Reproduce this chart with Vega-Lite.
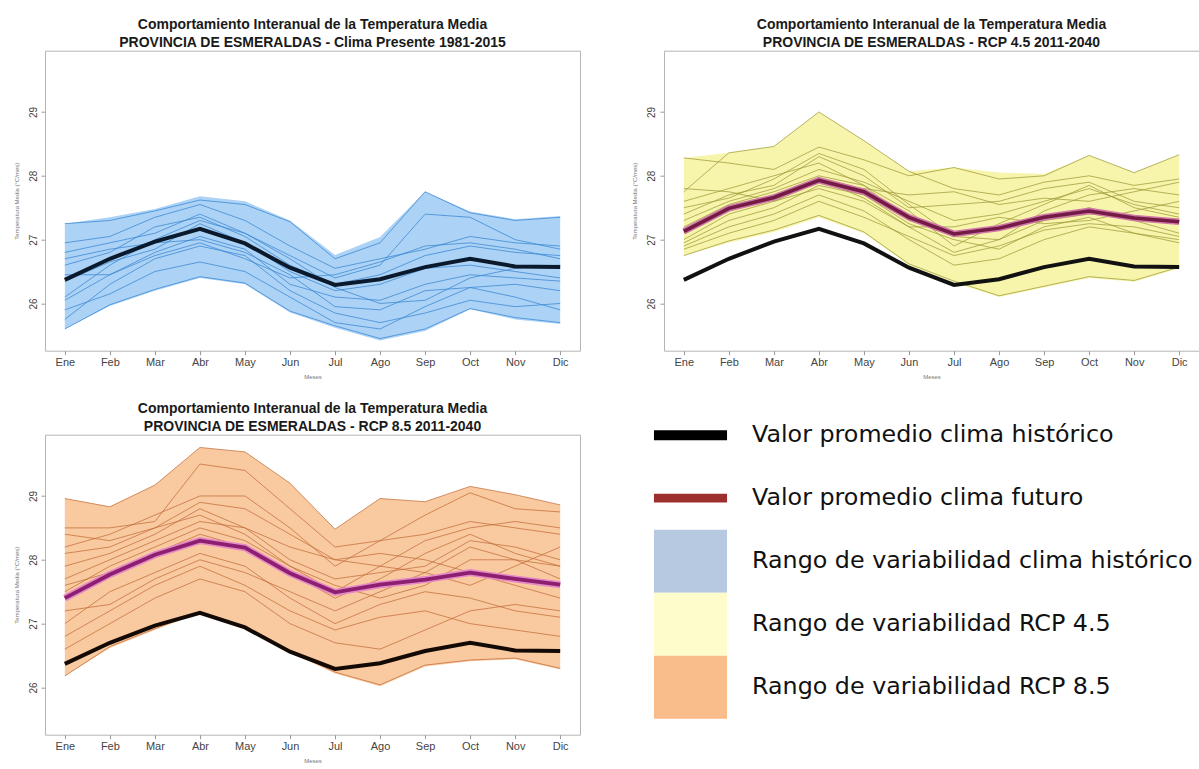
{
"$schema": "https://vega.github.io/schema/vega-lite/v6.json",
"background": "white",
"padding": {"left": 12, "top": 16.7, "right": 0, "bottom": 0},
"config": {
  "font": "Liberation Sans",
  "view": {"stroke": "#b5b5b5", "strokeWidth": 1},
  "title": {"fontSize": 14, "fontWeight": "bold", "color": "#1a1a1a", "lineHeight": 18, "offset": 1, "anchor": "middle", "font": "Liberation Sans"},
  "axis": {"domain": false, "grid": false, "tickColor": "#9a9a9a", "tickSize": 4, "labelColor": "#444444", "labelFont": "Liberation Sans", "titleFont": "Liberation Sans", "titleFontSize": 6, "titleFontWeight": "normal", "titleColor": "#777777"},
  "axisX": {"labelFontSize": 11, "labelPadding": 2, "titlePadding": 6, "labelAngle": 0},
  "axisY": {"labelFontSize": 10, "labelAngle": -90, "labelAlign": "center", "labelBaseline": "bottom", "labelPadding": 3, "titlePadding": 9}
},
"datasets": {
  "band": [
    {"p":"h","m":"Ene","lo":25.60,"hi":27.25,"hm":26.37},
    {"p":"h","m":"Feb","lo":25.96,"hi":27.35,"hm":26.70},
    {"p":"h","m":"Mar","lo":26.20,"hi":27.48,"hm":26.97},
    {"p":"h","m":"Abr","lo":26.40,"hi":27.68,"hm":27.17},
    {"p":"h","m":"May","lo":26.30,"hi":27.60,"hm":26.94},
    {"p":"h","m":"Jun","lo":25.86,"hi":27.30,"hm":26.56},
    {"p":"h","m":"Jul","lo":25.62,"hi":26.76,"hm":26.29},
    {"p":"h","m":"Ago","lo":25.42,"hi":27.04,"hm":26.38},
    {"p":"h","m":"Sep","lo":25.57,"hi":27.75,"hm":26.57},
    {"p":"h","m":"Oct","lo":25.91,"hi":27.44,"hm":26.70},
    {"p":"h","m":"Nov","lo":25.75,"hi":27.32,"hm":26.58},
    {"p":"h","m":"Dic","lo":25.68,"hi":27.37,"hm":26.57},
    {"p":"r45","m":"Ene","lo":26.75,"hi":28.28,"fm":27.13},
    {"p":"r45","m":"Feb","lo":26.95,"hi":28.36,"fm":27.49},
    {"p":"r45","m":"Mar","lo":27.12,"hi":28.46,"fm":27.66},
    {"p":"r45","m":"Abr","lo":27.35,"hi":29.00,"fm":27.93},
    {"p":"r45","m":"May","lo":27.10,"hi":28.55,"fm":27.75},
    {"p":"r45","m":"Jun","lo":26.60,"hi":28.07,"fm":27.35},
    {"p":"r45","m":"Jul","lo":26.33,"hi":28.13,"fm":27.09},
    {"p":"r45","m":"Ago","lo":26.10,"hi":28.05,"fm":27.18},
    {"p":"r45","m":"Sep","lo":26.25,"hi":28.03,"fm":27.35},
    {"p":"r45","m":"Oct","lo":26.40,"hi":28.32,"fm":27.45},
    {"p":"r45","m":"Nov","lo":26.34,"hi":28.05,"fm":27.34},
    {"p":"r45","m":"Dic","lo":26.55,"hi":28.33,"fm":27.28},
    {"p":"r85","m":"Ene","lo":26.18,"hi":28.96,"fm":27.40},
    {"p":"r85","m":"Feb","lo":26.62,"hi":28.83,"fm":27.77},
    {"p":"r85","m":"Mar","lo":26.90,"hi":29.17,"fm":28.08},
    {"p":"r85","m":"Abr","lo":27.17,"hi":29.76,"fm":28.30},
    {"p":"r85","m":"May","lo":26.93,"hi":29.69,"fm":28.19},
    {"p":"r85","m":"Jun","lo":26.55,"hi":29.20,"fm":27.79},
    {"p":"r85","m":"Jul","lo":26.22,"hi":28.48,"fm":27.49},
    {"p":"r85","m":"Ago","lo":26.02,"hi":28.96,"fm":27.61},
    {"p":"r85","m":"Sep","lo":26.33,"hi":28.91,"fm":27.69},
    {"p":"r85","m":"Oct","lo":26.41,"hi":29.15,"fm":27.80},
    {"p":"r85","m":"Nov","lo":26.44,"hi":29.02,"fm":27.70},
    {"p":"r85","m":"Dic","lo":26.28,"hi":28.86,"fm":27.61}
  ],
  "l1": [
    {"s":1,"m":"Ene","v":27.25},{"s":1,"m":"Feb","v":27.30},{"s":1,"m":"Mar","v":27.45},{"s":1,"m":"Abr","v":27.62},{"s":1,"m":"May","v":27.55},{"s":1,"m":"Jun","v":27.28},{"s":1,"m":"Jul","v":26.70},{"s":1,"m":"Ago","v":26.95},{"s":1,"m":"Sep","v":27.75},{"s":1,"m":"Oct","v":27.42},{"s":1,"m":"Nov","v":27.30},{"s":1,"m":"Dic","v":27.35},
    {"s":2,"m":"Ene","v":25.60},{"s":2,"m":"Feb","v":25.98},{"s":2,"m":"Mar","v":26.22},{"s":2,"m":"Abr","v":26.42},{"s":2,"m":"May","v":26.32},{"s":2,"m":"Jun","v":25.88},{"s":2,"m":"Jul","v":25.65},{"s":2,"m":"Ago","v":25.45},{"s":2,"m":"Sep","v":25.60},{"s":2,"m":"Oct","v":25.92},{"s":2,"m":"Nov","v":25.78},{"s":2,"m":"Dic","v":25.70},
    {"s":3,"m":"Ene","v":26.95},{"s":3,"m":"Feb","v":27.05},{"s":3,"m":"Mar","v":27.35},{"s":3,"m":"Abr","v":27.55},{"s":3,"m":"May","v":27.30},{"s":3,"m":"Jun","v":26.90},{"s":3,"m":"Jul","v":26.55},{"s":3,"m":"Ago","v":26.70},{"s":3,"m":"Sep","v":26.85},{"s":3,"m":"Oct","v":27.05},{"s":3,"m":"Nov","v":26.95},{"s":3,"m":"Dic","v":26.90},
    {"s":4,"m":"Ene","v":26.80},{"s":4,"m":"Feb","v":26.95},{"s":4,"m":"Mar","v":27.10},{"s":4,"m":"Abr","v":27.40},{"s":4,"m":"May","v":27.10},{"s":4,"m":"Jun","v":26.75},{"s":4,"m":"Jul","v":26.40},{"s":4,"m":"Ago","v":26.60},{"s":4,"m":"Sep","v":27.40},{"s":4,"m":"Oct","v":27.35},{"s":4,"m":"Nov","v":27.00},{"s":4,"m":"Dic","v":26.85},
    {"s":5,"m":"Ene","v":26.05},{"s":5,"m":"Feb","v":26.45},{"s":5,"m":"Mar","v":26.80},{"s":5,"m":"Abr","v":27.05},{"s":5,"m":"May","v":26.85},{"s":5,"m":"Jun","v":26.30},{"s":5,"m":"Jul","v":26.10},{"s":5,"m":"Ago","v":26.05},{"s":5,"m":"Sep","v":26.30},{"s":5,"m":"Oct","v":26.45},{"s":5,"m":"Nov","v":26.40},{"s":5,"m":"Dic","v":26.35},
    {"s":6,"m":"Ene","v":25.75},{"s":6,"m":"Feb","v":26.30},{"s":6,"m":"Mar","v":26.70},{"s":6,"m":"Abr","v":26.90},{"s":6,"m":"May","v":26.75},{"s":6,"m":"Jun","v":26.20},{"s":6,"m":"Jul","v":25.85},{"s":6,"m":"Ago","v":25.70},{"s":6,"m":"Sep","v":25.85},{"s":6,"m":"Oct","v":26.05},{"s":6,"m":"Nov","v":25.95},{"s":6,"m":"Dic","v":26.00},
    {"s":7,"m":"Ene","v":26.60},{"s":7,"m":"Feb","v":26.80},{"s":7,"m":"Mar","v":27.20},{"s":7,"m":"Abr","v":27.35},{"s":7,"m":"May","v":27.05},{"s":7,"m":"Jun","v":26.60},{"s":7,"m":"Jul","v":26.30},{"s":7,"m":"Ago","v":26.45},{"s":7,"m":"Sep","v":26.75},{"s":7,"m":"Oct","v":26.90},{"s":7,"m":"Nov","v":26.80},{"s":7,"m":"Dic","v":26.75},
    {"s":8,"m":"Ene","v":26.35},{"s":8,"m":"Feb","v":26.65},{"s":8,"m":"Mar","v":26.85},{"s":8,"m":"Abr","v":27.25},{"s":8,"m":"May","v":26.95},{"s":8,"m":"Jun","v":26.50},{"s":8,"m":"Jul","v":26.20},{"s":8,"m":"Ago","v":26.30},{"s":8,"m":"Sep","v":26.55},{"s":8,"m":"Oct","v":26.60},{"s":8,"m":"Nov","v":26.50},{"s":8,"m":"Dic","v":26.40},
    {"s":9,"m":"Ene","v":26.45},{"s":9,"m":"Feb","v":26.45},{"s":9,"m":"Mar","v":26.75},{"s":9,"m":"Abr","v":26.95},{"s":9,"m":"May","v":26.70},{"s":9,"m":"Jun","v":26.40},{"s":9,"m":"Jul","v":26.45},{"s":9,"m":"Ago","v":26.65},{"s":9,"m":"Sep","v":26.90},{"s":9,"m":"Oct","v":26.95},{"s":9,"m":"Nov","v":26.85},{"s":9,"m":"Dic","v":26.70},
    {"s":10,"m":"Ene","v":26.10},{"s":10,"m":"Feb","v":26.60},{"s":10,"m":"Mar","v":27.00},{"s":10,"m":"Abr","v":27.30},{"s":10,"m":"May","v":27.10},{"s":10,"m":"Jun","v":26.70},{"s":10,"m":"Jul","v":26.25},{"s":10,"m":"Ago","v":26.00},{"s":10,"m":"Sep","v":26.05},{"s":10,"m":"Oct","v":26.40},{"s":10,"m":"Nov","v":26.55},{"s":10,"m":"Dic","v":26.60},
    {"s":11,"m":"Ene","v":26.70},{"s":11,"m":"Feb","v":26.85},{"s":11,"m":"Mar","v":26.95},{"s":11,"m":"Abr","v":27.00},{"s":11,"m":"May","v":26.80},{"s":11,"m":"Jun","v":26.45},{"s":11,"m":"Jul","v":25.95},{"s":11,"m":"Ago","v":25.90},{"s":11,"m":"Sep","v":26.20},{"s":11,"m":"Oct","v":26.25},{"s":11,"m":"Nov","v":26.30},{"s":11,"m":"Dic","v":26.20},
    {"s":12,"m":"Ene","v":25.90},{"s":12,"m":"Feb","v":26.15},{"s":12,"m":"Mar","v":26.50},{"s":12,"m":"Abr","v":26.65},{"s":12,"m":"May","v":26.50},{"s":12,"m":"Jun","v":26.10},{"s":12,"m":"Jul","v":25.70},{"s":12,"m":"Ago","v":25.60},{"s":12,"m":"Sep","v":25.95},{"s":12,"m":"Oct","v":26.25},{"s":12,"m":"Nov","v":26.10},{"s":12,"m":"Dic","v":25.90}
  ],
  "l2": [
    {"s":1,"m":"Ene","v":28.28},{"s":1,"m":"Feb","v":28.20},{"s":1,"m":"Mar","v":28.10},{"s":1,"m":"Abr","v":28.45},{"s":1,"m":"May","v":28.25},{"s":1,"m":"Jun","v":28.00},{"s":1,"m":"Jul","v":28.13},{"s":1,"m":"Ago","v":27.95},{"s":1,"m":"Sep","v":28.00},{"s":1,"m":"Oct","v":28.32},{"s":1,"m":"Nov","v":28.05},{"s":1,"m":"Dic","v":28.33},
    {"s":2,"m":"Ene","v":26.75},{"s":2,"m":"Feb","v":26.98},{"s":2,"m":"Mar","v":27.15},{"s":2,"m":"Abr","v":27.38},{"s":2,"m":"May","v":27.12},{"s":2,"m":"Jun","v":26.62},{"s":2,"m":"Jul","v":26.35},{"s":2,"m":"Ago","v":26.12},{"s":2,"m":"Sep","v":26.27},{"s":2,"m":"Oct","v":26.42},{"s":2,"m":"Nov","v":26.36},{"s":2,"m":"Dic","v":26.57},
    {"s":3,"m":"Ene","v":27.75},{"s":3,"m":"Feb","v":28.36},{"s":3,"m":"Mar","v":28.46},{"s":3,"m":"Abr","v":29.00},{"s":3,"m":"May","v":28.55},{"s":3,"m":"Jun","v":28.07},{"s":3,"m":"Jul","v":27.80},{"s":3,"m":"Ago","v":27.70},{"s":3,"m":"Sep","v":27.90},{"s":3,"m":"Oct","v":28.00},{"s":3,"m":"Nov","v":27.85},{"s":3,"m":"Dic","v":27.95},
    {"s":4,"m":"Ene","v":27.40},{"s":4,"m":"Feb","v":27.70},{"s":4,"m":"Mar","v":27.85},{"s":4,"m":"Abr","v":28.30},{"s":4,"m":"May","v":28.00},{"s":4,"m":"Jun","v":27.50},{"s":4,"m":"Jul","v":27.55},{"s":4,"m":"Ago","v":27.60},{"s":4,"m":"Sep","v":27.80},{"s":4,"m":"Oct","v":27.90},{"s":4,"m":"Nov","v":27.60},{"s":4,"m":"Dic","v":27.50},
    {"s":5,"m":"Ene","v":27.00},{"s":5,"m":"Feb","v":27.40},{"s":5,"m":"Mar","v":27.60},{"s":5,"m":"Abr","v":27.80},{"s":5,"m":"May","v":27.60},{"s":5,"m":"Jun","v":27.20},{"s":5,"m":"Jul","v":26.80},{"s":5,"m":"Ago","v":27.00},{"s":5,"m":"Sep","v":27.30},{"s":5,"m":"Oct","v":27.50},{"s":5,"m":"Nov","v":27.30},{"s":5,"m":"Dic","v":27.10},
    {"s":6,"m":"Ene","v":26.90},{"s":6,"m":"Feb","v":27.20},{"s":6,"m":"Mar","v":27.40},{"s":6,"m":"Abr","v":27.70},{"s":6,"m":"May","v":27.45},{"s":6,"m":"Jun","v":27.00},{"s":6,"m":"Jul","v":26.60},{"s":6,"m":"Ago","v":26.70},{"s":6,"m":"Sep","v":27.00},{"s":6,"m":"Oct","v":27.20},{"s":6,"m":"Nov","v":27.10},{"s":6,"m":"Dic","v":26.95},
    {"s":7,"m":"Ene","v":27.30},{"s":7,"m":"Feb","v":27.60},{"s":7,"m":"Mar","v":27.80},{"s":7,"m":"Abr","v":28.10},{"s":7,"m":"May","v":27.90},{"s":7,"m":"Jun","v":27.60},{"s":7,"m":"Jul","v":27.30},{"s":7,"m":"Ago","v":27.40},{"s":7,"m":"Sep","v":27.60},{"s":7,"m":"Oct","v":27.80},{"s":7,"m":"Nov","v":27.55},{"s":7,"m":"Dic","v":27.40},
    {"s":8,"m":"Ene","v":26.95},{"s":8,"m":"Feb","v":27.30},{"s":8,"m":"Mar","v":27.50},{"s":8,"m":"Abr","v":27.85},{"s":8,"m":"May","v":27.70},{"s":8,"m":"Jun","v":27.25},{"s":8,"m":"Jul","v":27.00},{"s":8,"m":"Ago","v":26.85},{"s":8,"m":"Sep","v":27.20},{"s":8,"m":"Oct","v":27.35},{"s":8,"m":"Nov","v":27.10},{"s":8,"m":"Dic","v":27.00},
    {"s":9,"m":"Ene","v":27.20},{"s":9,"m":"Feb","v":27.55},{"s":9,"m":"Mar","v":27.75},{"s":9,"m":"Abr","v":28.00},{"s":9,"m":"May","v":27.85},{"s":9,"m":"Jun","v":27.45},{"s":9,"m":"Jul","v":26.90},{"s":9,"m":"Ago","v":27.25},{"s":9,"m":"Sep","v":27.55},{"s":9,"m":"Oct","v":27.85},{"s":9,"m":"Nov","v":27.50},{"s":9,"m":"Dic","v":27.35},
    {"s":10,"m":"Ene","v":27.60},{"s":10,"m":"Feb","v":27.80},{"s":10,"m":"Mar","v":28.00},{"s":10,"m":"Abr","v":28.20},{"s":10,"m":"May","v":27.85},{"s":10,"m":"Jun","v":27.30},{"s":10,"m":"Jul","v":27.10},{"s":10,"m":"Ago","v":27.20},{"s":10,"m":"Sep","v":27.30},{"s":10,"m":"Oct","v":27.40},{"s":10,"m":"Nov","v":27.35},{"s":10,"m":"Dic","v":27.30},
    {"s":11,"m":"Ene","v":26.85},{"s":11,"m":"Feb","v":27.10},{"s":11,"m":"Mar","v":27.30},{"s":11,"m":"Abr","v":27.60},{"s":11,"m":"May","v":27.35},{"s":11,"m":"Jun","v":27.05},{"s":11,"m":"Jul","v":26.75},{"s":11,"m":"Ago","v":26.90},{"s":11,"m":"Sep","v":27.15},{"s":11,"m":"Oct","v":27.25},{"s":11,"m":"Nov","v":27.20},{"s":11,"m":"Dic","v":27.05},
    {"s":12,"m":"Ene","v":27.10},{"s":12,"m":"Feb","v":27.50},{"s":12,"m":"Mar","v":27.70},{"s":12,"m":"Abr","v":27.95},{"s":12,"m":"May","v":27.65},{"s":12,"m":"Jun","v":27.20},{"s":12,"m":"Jul","v":27.20},{"s":12,"m":"Ago","v":27.35},{"s":12,"m":"Sep","v":27.25},{"s":12,"m":"Oct","v":27.30},{"s":12,"m":"Nov","v":27.45},{"s":12,"m":"Dic","v":27.60},
    {"s":13,"m":"Ene","v":27.50},{"s":13,"m":"Feb","v":27.65},{"s":13,"m":"Mar","v":27.95},{"s":13,"m":"Abr","v":28.35},{"s":13,"m":"May","v":28.10},{"s":13,"m":"Jun","v":27.55},{"s":13,"m":"Jul","v":27.05},{"s":13,"m":"Ago","v":27.00},{"s":13,"m":"Sep","v":27.45},{"s":13,"m":"Oct","v":27.70},{"s":13,"m":"Nov","v":27.80},{"s":13,"m":"Dic","v":27.70},
    {"s":14,"m":"Ene","v":27.80},{"s":14,"m":"Feb","v":27.75},{"s":14,"m":"Mar","v":27.60},{"s":14,"m":"Abr","v":27.90},{"s":14,"m":"May","v":27.80},{"s":14,"m":"Jun","v":27.70},{"s":14,"m":"Jul","v":27.75},{"s":14,"m":"Ago","v":27.55},{"s":14,"m":"Sep","v":27.65},{"s":14,"m":"Oct","v":27.60},{"s":14,"m":"Nov","v":27.75},{"s":14,"m":"Dic","v":27.90}
  ],
  "l3": [
    {"s":1,"m":"Ene","v":28.96},{"s":1,"m":"Feb","v":28.83},{"s":1,"m":"Mar","v":29.17},{"s":1,"m":"Abr","v":29.76},{"s":1,"m":"May","v":29.69},{"s":1,"m":"Jun","v":29.20},{"s":1,"m":"Jul","v":28.48},{"s":1,"m":"Ago","v":28.96},{"s":1,"m":"Sep","v":28.91},{"s":1,"m":"Oct","v":29.15},{"s":1,"m":"Nov","v":29.02},{"s":1,"m":"Dic","v":28.86},
    {"s":2,"m":"Ene","v":26.18},{"s":2,"m":"Feb","v":26.64},{"s":2,"m":"Mar","v":26.92},{"s":2,"m":"Abr","v":27.19},{"s":2,"m":"May","v":26.95},{"s":2,"m":"Jun","v":26.57},{"s":2,"m":"Jul","v":26.24},{"s":2,"m":"Ago","v":26.04},{"s":2,"m":"Sep","v":26.35},{"s":2,"m":"Oct","v":26.43},{"s":2,"m":"Nov","v":26.46},{"s":2,"m":"Dic","v":26.30},
    {"s":3,"m":"Ene","v":28.50},{"s":3,"m":"Feb","v":28.50},{"s":3,"m":"Mar","v":28.60},{"s":3,"m":"Abr","v":29.50},{"s":3,"m":"May","v":29.40},{"s":3,"m":"Jun","v":28.80},{"s":3,"m":"Jul","v":28.20},{"s":3,"m":"Ago","v":28.30},{"s":3,"m":"Sep","v":28.40},{"s":3,"m":"Oct","v":28.60},{"s":3,"m":"Nov","v":28.50},{"s":3,"m":"Dic","v":28.40},
    {"s":4,"m":"Ene","v":28.20},{"s":4,"m":"Feb","v":28.40},{"s":4,"m":"Mar","v":28.70},{"s":4,"m":"Abr","v":29.00},{"s":4,"m":"May","v":29.00},{"s":4,"m":"Jun","v":28.50},{"s":4,"m":"Jul","v":27.90},{"s":4,"m":"Ago","v":28.30},{"s":4,"m":"Sep","v":28.70},{"s":4,"m":"Oct","v":29.05},{"s":4,"m":"Nov","v":28.80},{"s":4,"m":"Dic","v":28.75},
    {"s":5,"m":"Ene","v":27.90},{"s":5,"m":"Feb","v":28.10},{"s":5,"m":"Mar","v":28.40},{"s":5,"m":"Abr","v":28.80},{"s":5,"m":"May","v":28.50},{"s":5,"m":"Jun","v":28.00},{"s":5,"m":"Jul","v":27.70},{"s":5,"m":"Ago","v":27.80},{"s":5,"m":"Sep","v":27.90},{"s":5,"m":"Oct","v":28.30},{"s":5,"m":"Nov","v":28.20},{"s":5,"m":"Dic","v":28.00},
    {"s":6,"m":"Ene","v":27.50},{"s":6,"m":"Feb","v":27.90},{"s":6,"m":"Mar","v":28.20},{"s":6,"m":"Abr","v":28.50},{"s":6,"m":"May","v":28.30},{"s":6,"m":"Jun","v":27.90},{"s":6,"m":"Jul","v":27.60},{"s":6,"m":"Ago","v":27.40},{"s":6,"m":"Sep","v":27.60},{"s":6,"m":"Oct","v":28.00},{"s":6,"m":"Nov","v":28.00},{"s":6,"m":"Dic","v":27.90},
    {"s":7,"m":"Ene","v":27.00},{"s":7,"m":"Feb","v":27.50},{"s":7,"m":"Mar","v":27.80},{"s":7,"m":"Abr","v":28.10},{"s":7,"m":"May","v":27.90},{"s":7,"m":"Jun","v":27.40},{"s":7,"m":"Jul","v":27.00},{"s":7,"m":"Ago","v":27.30},{"s":7,"m":"Sep","v":27.50},{"s":7,"m":"Oct","v":27.40},{"s":7,"m":"Nov","v":27.20},{"s":7,"m":"Dic","v":27.10},
    {"s":8,"m":"Ene","v":26.80},{"s":8,"m":"Feb","v":27.20},{"s":8,"m":"Mar","v":27.60},{"s":8,"m":"Abr","v":27.90},{"s":8,"m":"May","v":27.60},{"s":8,"m":"Jun","v":27.20},{"s":8,"m":"Jul","v":26.90},{"s":8,"m":"Ago","v":27.10},{"s":8,"m":"Sep","v":27.20},{"s":8,"m":"Oct","v":27.00},{"s":8,"m":"Nov","v":26.90},{"s":8,"m":"Dic","v":26.80},
    {"s":9,"m":"Ene","v":27.70},{"s":9,"m":"Feb","v":28.00},{"s":9,"m":"Mar","v":28.30},{"s":9,"m":"Abr","v":28.60},{"s":9,"m":"May","v":28.50},{"s":9,"m":"Jun","v":28.20},{"s":9,"m":"Jul","v":28.00},{"s":9,"m":"Ago","v":28.10},{"s":9,"m":"Sep","v":28.00},{"s":9,"m":"Oct","v":27.80},{"s":9,"m":"Nov","v":27.60},{"s":9,"m":"Dic","v":27.40},
    {"s":10,"m":"Ene","v":27.20},{"s":10,"m":"Feb","v":27.30},{"s":10,"m":"Mar","v":27.70},{"s":10,"m":"Abr","v":28.00},{"s":10,"m":"May","v":27.80},{"s":10,"m":"Jun","v":27.50},{"s":10,"m":"Jul","v":27.20},{"s":10,"m":"Ago","v":27.50},{"s":10,"m":"Sep","v":27.80},{"s":10,"m":"Oct","v":28.20},{"s":10,"m":"Nov","v":28.00},{"s":10,"m":"Dic","v":27.70},
    {"s":11,"m":"Ene","v":26.60},{"s":11,"m":"Feb","v":27.00},{"s":11,"m":"Mar","v":27.40},{"s":11,"m":"Abr","v":27.70},{"s":11,"m":"May","v":27.50},{"s":11,"m":"Jun","v":27.00},{"s":11,"m":"Jul","v":26.70},{"s":11,"m":"Ago","v":26.60},{"s":11,"m":"Sep","v":26.90},{"s":11,"m":"Oct","v":27.20},{"s":11,"m":"Nov","v":27.30},{"s":11,"m":"Dic","v":27.20},
    {"s":12,"m":"Ene","v":28.10},{"s":12,"m":"Feb","v":28.20},{"s":12,"m":"Mar","v":28.50},{"s":12,"m":"Abr","v":28.90},{"s":12,"m":"May","v":28.80},{"s":12,"m":"Jun","v":28.40},{"s":12,"m":"Jul","v":28.00},{"s":12,"m":"Ago","v":27.90},{"s":12,"m":"Sep","v":27.80},{"s":12,"m":"Oct","v":27.60},{"s":12,"m":"Nov","v":27.90},{"s":12,"m":"Dic","v":28.20},
    {"s":13,"m":"Ene","v":28.40},{"s":13,"m":"Feb","v":28.30},{"s":13,"m":"Mar","v":28.50},{"s":13,"m":"Abr","v":28.70},{"s":13,"m":"May","v":28.40},{"s":13,"m":"Jun","v":27.90},{"s":13,"m":"Jul","v":27.50},{"s":13,"m":"Ago","v":27.90},{"s":13,"m":"Sep","v":28.30},{"s":13,"m":"Oct","v":28.50},{"s":13,"m":"Nov","v":28.60},{"s":13,"m":"Dic","v":28.50},
    {"s":14,"m":"Ene","v":27.60},{"s":14,"m":"Feb","v":27.80},{"s":14,"m":"Mar","v":28.10},{"s":14,"m":"Abr","v":28.40},{"s":14,"m":"May","v":28.20},{"s":14,"m":"Jun","v":27.80},{"s":14,"m":"Jul","v":27.40},{"s":14,"m":"Ago","v":27.70},{"s":14,"m":"Sep","v":28.10},{"s":14,"m":"Oct","v":28.40},{"s":14,"m":"Nov","v":28.10},{"s":14,"m":"Dic","v":27.90}
  ],
  "leg": [
    {"k":"Valor promedio clima histórico"},
    {"k":"Valor promedio clima futuro"},
    {"k":"Rango de variabilidad clima histórico"},
    {"k":"Rango de variabilidad RCP 4.5"},
    {"k":"Rango de variabilidad RCP 8.5"}
  ]
},
"bounds": "flush",
"columns": 2,
"spacing": {"row": 84, "column": 84},
"concat": [
  {
    "width": 535, "height": 300,
    "title": {"text": ["Comportamiento Interanual de la Temperatura Media", "PROVINCIA DE ESMERALDAS - Clima Presente 1981-2015"]},
    "encoding": {"x": {"field": "m", "type": "ordinal", "title": "Meses", "scale": {"type": "point", "domain": ["Ene","Feb","Mar","Abr","May","Jun","Jul","Ago","Sep","Oct","Nov","Dic"], "padding": 0.44}}},
    "layer": [
      {"data": {"name": "band"}, "transform": [{"filter": "datum.p == 'h'"}],
       "mark": {"type": "area", "color": "#acd2f5", "opacity": 1},
       "encoding": {"y": {"field": "lo", "type": "quantitative", "title": "Temperatura Media (°C/mes)", "scale": {"domain": [25.26, 29.96], "nice": false, "zero": false}, "axis": {"values": [26, 27, 28, 29], "labelAngle": -90}}, "y2": {"field": "hi"}, "order": {"value": null}}},
      {"data": {"name": "l1"},
       "mark": {"type": "line", "color": "#3a88d4", "strokeWidth": 0.9, "opacity": 0.85},
       "encoding": {"y": {"field": "v", "type": "quantitative", "title": "Temperatura Media (°C/mes)", "scale": {"domain": [25.26, 29.96], "nice": false, "zero": false}, "axis": {"values": [26, 27, 28, 29], "labelAngle": -90}}, "detail": {"field": "s"}, "order": {"value": null}}},
      {"data": {"name": "band"}, "transform": [{"filter": "datum.p == 'h'"}],
       "mark": {"type": "line", "color": "#0a1a2c", "strokeWidth": 4},
       "encoding": {"y": {"field": "hm", "type": "quantitative", "title": "Temperatura Media (°C/mes)", "scale": {"domain": [25.26, 29.96], "nice": false, "zero": false}, "axis": {"values": [26, 27, 28, 29], "labelAngle": -90}}, "order": {"value": null}}}
    ]
  },
  {
    "width": 535, "height": 300,
    "title": {"text": ["Comportamiento Interanual de la Temperatura Media", "PROVINCIA DE ESMERALDAS - RCP 4.5 2011-2040"]},
    "encoding": {"x": {"field": "m", "type": "ordinal", "title": "Meses", "scale": {"type": "point", "domain": ["Ene","Feb","Mar","Abr","May","Jun","Jul","Ago","Sep","Oct","Nov","Dic"], "padding": 0.44}}},
    "layer": [
      {"data": {"name": "band"}, "transform": [{"filter": "datum.p == 'r45'"}],
       "mark": {"type": "area", "color": "#f7f4ab", "opacity": 1},
       "encoding": {"y": {"field": "lo", "type": "quantitative", "title": "Temperatura Media (°C/mes)", "scale": {"domain": [25.26, 29.96], "nice": false, "zero": false}, "axis": {"values": [26, 27, 28, 29], "labelAngle": -90}}, "y2": {"field": "hi"}, "order": {"value": null}}},
      {"data": {"name": "l2"},
       "mark": {"type": "line", "color": "#9a9835", "strokeWidth": 0.8, "opacity": 0.9},
       "encoding": {"y": {"field": "v", "type": "quantitative", "title": "Temperatura Media (°C/mes)", "scale": {"domain": [25.26, 29.96], "nice": false, "zero": false}, "axis": {"values": [26, 27, 28, 29], "labelAngle": -90}}, "detail": {"field": "s"}, "order": {"value": null}}},
      {"data": {"name": "band"}, "transform": [{"filter": "datum.p == 'h'"}],
       "mark": {"type": "line", "color": "#111111", "strokeWidth": 4},
       "encoding": {"y": {"field": "hm", "type": "quantitative", "title": "Temperatura Media (°C/mes)", "scale": {"domain": [25.26, 29.96], "nice": false, "zero": false}, "axis": {"values": [26, 27, 28, 29], "labelAngle": -90}}, "order": {"value": null}}},
      {"data": {"name": "band"}, "transform": [{"filter": "datum.p == 'r45'"}],
       "mark": {"type": "line", "color": "#cf77a6", "strokeWidth": 6.5},
       "encoding": {"y": {"field": "fm", "type": "quantitative", "title": "Temperatura Media (°C/mes)", "scale": {"domain": [25.26, 29.96], "nice": false, "zero": false}, "axis": {"values": [26, 27, 28, 29], "labelAngle": -90}}, "order": {"value": null}}},
      {"data": {"name": "band"}, "transform": [{"filter": "datum.p == 'r45'"}],
       "mark": {"type": "line", "color": "#731a45", "strokeWidth": 3.5},
       "encoding": {"y": {"field": "fm", "type": "quantitative", "title": "Temperatura Media (°C/mes)", "scale": {"domain": [25.26, 29.96], "nice": false, "zero": false}, "axis": {"values": [26, 27, 28, 29], "labelAngle": -90}}, "order": {"value": null}}}
    ]
  },
  {
    "width": 535, "height": 300,
    "title": {"text": ["Comportamiento Interanual de la Temperatura Media", "PROVINCIA DE ESMERALDAS - RCP 8.5 2011-2040"]},
    "encoding": {"x": {"field": "m", "type": "ordinal", "title": "Meses", "scale": {"type": "point", "domain": ["Ene","Feb","Mar","Abr","May","Jun","Jul","Ago","Sep","Oct","Nov","Dic"], "padding": 0.44}}},
    "layer": [
      {"data": {"name": "band"}, "transform": [{"filter": "datum.p == 'r85'"}],
       "mark": {"type": "area", "color": "#f9c9a0", "opacity": 1},
       "encoding": {"y": {"field": "lo", "type": "quantitative", "title": "Temperatura Media (°C/mes)", "scale": {"domain": [25.26, 29.96], "nice": false, "zero": false}, "axis": {"values": [26, 27, 28, 29], "labelAngle": -90}}, "y2": {"field": "hi"}, "order": {"value": null}}},
      {"data": {"name": "l3"},
       "mark": {"type": "line", "color": "#c06a35", "strokeWidth": 0.8, "opacity": 0.9},
       "encoding": {"y": {"field": "v", "type": "quantitative", "title": "Temperatura Media (°C/mes)", "scale": {"domain": [25.26, 29.96], "nice": false, "zero": false}, "axis": {"values": [26, 27, 28, 29], "labelAngle": -90}}, "detail": {"field": "s"}, "order": {"value": null}}},
      {"data": {"name": "band"}, "transform": [{"filter": "datum.p == 'h'"}],
       "mark": {"type": "line", "color": "#140a05", "strokeWidth": 4},
       "encoding": {"y": {"field": "hm", "type": "quantitative", "title": "Temperatura Media (°C/mes)", "scale": {"domain": [25.26, 29.96], "nice": false, "zero": false}, "axis": {"values": [26, 27, 28, 29], "labelAngle": -90}}, "order": {"value": null}}},
      {"data": {"name": "band"}, "transform": [{"filter": "datum.p == 'r85'"}],
       "mark": {"type": "line", "color": "#e488c6", "strokeWidth": 7},
       "encoding": {"y": {"field": "fm", "type": "quantitative", "title": "Temperatura Media (°C/mes)", "scale": {"domain": [25.26, 29.96], "nice": false, "zero": false}, "axis": {"values": [26, 27, 28, 29], "labelAngle": -90}}, "order": {"value": null}}},
      {"data": {"name": "band"}, "transform": [{"filter": "datum.p == 'r85'"}],
       "mark": {"type": "line", "color": "#8c1f70", "strokeWidth": 3.8},
       "encoding": {"y": {"field": "fm", "type": "quantitative", "title": "Temperatura Media (°C/mes)", "scale": {"domain": [25.26, 29.96], "nice": false, "zero": false}, "axis": {"values": [26, 27, 28, 29], "labelAngle": -90}}, "order": {"value": null}}}
    ]
  },
  {
    "width": 535, "height": 300,
    "view": {"stroke": null},
    "data": {"name": "leg"},
    "transform": [{"filter": "false"}],
    "mark": {"type": "point", "filled": true, "opacity": 1},
    "encoding": {
      "color": {"field": "k", "type": "nominal",
        "scale": {"domain": ["Valor promedio clima histórico","Valor promedio clima futuro","Rango de variabilidad clima histórico","Rango de variabilidad RCP 4.5","Rango de variabilidad RCP 8.5"], "range": ["#000000","#9e2f2f","#b6c9e1","#fffccb","#f9bc8b"]},
        "legend": {"orient": "none", "legendX": 614, "legendY": 353, "title": null, "labelFontSize": 23.8, "labelFont": "DejaVu Sans", "labelColor": "#111111", "symbolSize": 3969, "symbolStrokeWidth": 0, "symbolOpacity": 1, "rowPadding": 0, "labelOffset": 30, "padding": 0, "labelLimit": 700}},
      "shape": {"field": "k", "type": "nominal",
        "scale": {"domain": ["Valor promedio clima histórico","Valor promedio clima futuro","Rango de variabilidad clima histórico","Rango de variabilidad RCP 4.5","Rango de variabilidad RCP 8.5"], "range": ["M-1.16,-0.16L1.16,-0.16L1.16,0.16L-1.16,0.16ZM0,-1L0,-1M0,1L0,1","M-1.16,-0.14L1.16,-0.14L1.16,0.14L-1.16,0.14ZM0,-1L0,-1M0,1L0,1","M-1.16,-1L1.16,-1L1.16,1L-1.16,1Z","M-1.16,-1L1.16,-1L1.16,1L-1.16,1Z","M-1.16,-1L1.16,-1L1.16,1L-1.16,1Z"]}}
    }
  }
]
}
